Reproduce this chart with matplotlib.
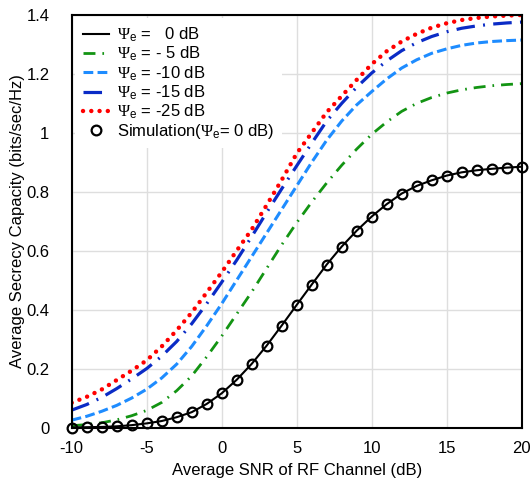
import matplotlib
matplotlib.use("Agg")
import matplotlib.pyplot as plt
import numpy as np

snr_db = list(range(-10, 21))

cap_0db = [0.0, 0.001, 0.002, 0.004, 0.008, 0.014, 0.022, 0.035, 0.052, 0.080,
           0.116, 0.162, 0.216, 0.278, 0.346, 0.416, 0.485, 0.553, 0.614, 0.668,
           0.716, 0.758, 0.794, 0.820, 0.839, 0.855, 0.866, 0.873, 0.878, 0.882, 0.885]
cap_m5db = [0.006, 0.010, 0.016, 0.026, 0.040, 0.058, 0.085, 0.125, 0.175, 0.240,
            0.310, 0.385, 0.460, 0.540, 0.620, 0.695, 0.765, 0.830, 0.890, 0.945,
            0.995, 1.037, 1.073, 1.100, 1.120, 1.135, 1.146, 1.154, 1.160, 1.164, 1.167]
cap_m10db = [0.025, 0.038, 0.055, 0.075, 0.100, 0.130, 0.168, 0.215, 0.275, 0.345,
             0.420, 0.500, 0.580, 0.660, 0.740, 0.820, 0.900, 0.975, 1.040, 1.095,
             1.140, 1.183, 1.220, 1.248, 1.270, 1.285, 1.297, 1.305, 1.310, 1.313, 1.315]
cap_m15db = [0.059, 0.078, 0.102, 0.132, 0.165, 0.200, 0.242, 0.292, 0.352, 0.420,
             0.493, 0.568, 0.648, 0.730, 0.810, 0.888, 0.965, 1.040, 1.100, 1.155,
             1.203, 1.244, 1.279, 1.306, 1.327, 1.343, 1.355, 1.363, 1.369, 1.373, 1.376]
cap_m25db = [0.084, 0.104, 0.129, 0.161, 0.193, 0.228, 0.275, 0.330, 0.390, 0.458,
             0.527, 0.600, 0.672, 0.755, 0.840, 0.930, 1.000, 1.070, 1.125, 1.180,
             1.233, 1.277, 1.310, 1.336, 1.357, 1.372, 1.383, 1.390, 1.395, 1.398, 1.400]
sim_0db = cap_0db

PS = r"$\Psi_{\mathsf{e}}$"
labels = [PS + " =   0 dB", PS + " = - 5 dB", PS + " = -10 dB",
          PS + " = -15 dB", PS + " = -25 dB",
          "Simulation(" + PS + "= 0 dB)"]
xticks = [-10, -5, 0, 5, 10, 15, 20]
yticks = [0, 0.2, 0.4, 0.6, 0.8, 1.0, 1.2, 1.4]
yticklabels = ["0", "0.2", "0.4", "0.6", "0.8", "1", "1.2", "1.4"]

plt.rcParams['font.family'] = ['Liberation Sans', 'DejaVu Sans']
plt.rcParams['axes.unicode_minus'] = False
plt.rcParams['mathtext.fontset'] = 'custom'
plt.rcParams['mathtext.rm'] = 'Liberation Serif'
plt.rcParams['mathtext.it'] = 'Liberation Serif:italic'
plt.rcParams['mathtext.sf'] = 'Liberation Sans'

fig = plt.figure(figsize=(5.31, 4.79), dpi=100)
ax = fig.add_axes([0.135, 0.1075, 0.8475, 0.8612])

ax.plot(snr_db, cap_0db, color='black', lw=1.5, label=labels[0], zorder=5)
ax.plot(snr_db, cap_m5db, color='#139413', lw=2.0, dashes=(4.3, 2.5, 0.6, 2.5), label=labels[1])
ax.plot(snr_db, cap_m10db, color='#1E8CFF', lw=2.2, dashes=(3.2, 1.4), label=labels[2])
ax.plot(snr_db, cap_m15db, color='#0A2BC6', lw=2.3, dashes=(5.8, 2.6, 0.6, 2.6), label=labels[3])
ax.plot(snr_db, cap_m25db, color='#FF0000', lw=3.2, linestyle=(0, (0.01, 1.85)),
        dash_capstyle='round', label=labels[4])
ax.plot(snr_db, sim_0db, linestyle='none', marker='o', ms=7, mfc='none', mec='black',
        mew=1.6, label=labels[5], zorder=6, clip_on=False)

ax.set_xlim(-10, 20)
ax.set_ylim(0, 1.4)
ax.set_xticks(xticks)
ax.set_yticks(yticks)
ax.set_yticklabels(yticklabels)
ax.tick_params(length=0, labelsize=12)
ax.tick_params(axis='x', pad=10)
ax.tick_params(axis='y', pad=16)
ax.grid(True, color='#dedede', lw=1)
ax.set_axisbelow(True)
for s in ax.spines.values():
    s.set_linewidth(1.5)
    s.set_color('black')

ax.set_xlabel("Average SNR of RF Channel (dB)", fontsize=12, labelpad=5)
ax.set_ylabel("Average Secrecy Capacity (bits/sec/Hz)", fontsize=12, labelpad=1)

leg = ax.legend(loc='upper left', fontsize=12, frameon=True, fancybox=False,
                framealpha=1, edgecolor='none', facecolor='white',
                handlelength=1.6, handletextpad=0.45, labelspacing=0.05,
                borderaxespad=0.2, borderpad=0.45)
leg.set_zorder(10)

fig.savefig("out.png", dpi=100)
